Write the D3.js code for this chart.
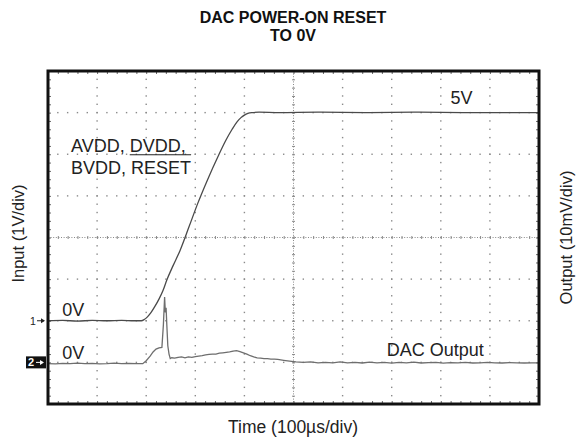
<!DOCTYPE html>
<html>
<head>
<meta charset="utf-8">
<script src="https://cdn.jsdelivr.net/npm/d3@7"></script>
<style>
  html, body { margin: 0; padding: 0; background: #fff; }
  svg { display: block; font-family: "Liberation Sans", Arial, Helvetica, sans-serif; }
</style>
</head>
<body>
<svg id="chart" width="576" height="443"></svg>
<script>
// Channel 1: supply ramp (AVDD, DVDD, BVDD, RESET), volts vs time in µs
const inputTime  = [0, 30, 60, 90, 120, 150, 175, 190, 196, 203, 210, 218, 226, 234, 242, 255, 269, 287, 305, 325, 346, 362, 375, 385, 393, 400, 407, 415, 430, 470, 550, 650, 750, 850, 1000];
const inputVolts = [0, 0.01, -0.01, 0.01, 0, 0.01, 0, 0, 0.03, 0.1, 0.2, 0.35, 0.52, 0.72, 0.98, 1.33, 1.69, 2.25, 2.82, 3.39, 3.94, 4.33, 4.6, 4.78, 4.88, 4.94, 4.98, 5.0, 5.01, 5.0, 5.01, 5.0, 5.01, 5.0, 5.0];

// Channel 2: DAC output, millivolts vs time in µs
const dacTime = [0, 15, 30, 45, 60, 75, 90, 105, 120, 135, 150, 165, 180, 193, 200, 208, 214, 220, 226, 232, 235, 237.5, 239, 240.5, 242, 244, 246.5, 249, 252, 258, 265, 272, 279, 286, 293, 300, 307, 314, 321, 328, 335, 342, 349, 356, 363, 370, 377, 384, 391, 398, 405, 412, 419, 426, 433, 440, 447, 454, 461, 468, 480, 492, 505, 520, 535, 550, 565, 580, 595, 610, 625, 640, 655, 670, 685, 700, 715, 730, 745, 760, 775, 790, 805, 820, 835, 850, 865, 880, 895, 910, 925, 940, 955, 970, 985, 1000];
const dacMilliVolts = [-0.3, -0.35, -0.25, -0.3, -0.2, -0.3, -0.25, -0.35, -0.3, -0.2, -0.3, -0.25, -0.3, -0.3, 0.4, 1.5, 2.5, 3.2, 3.5, 3.6, 9.0, 15.7, 12.0, 13.1, 9.0, 4.0, 2.0, 0.9, 1.1, 1.0, 1.2, 1.3, 1.1, 1.3, 1.2, 1.4, 1.5, 1.6, 1.8, 1.9, 2.0, 2.0, 2.2, 2.3, 2.4, 2.5, 2.7, 2.8, 2.6, 2.3, 2.0, 1.6, 1.3, 1.1, 1.0, 0.9, 0.9, 0.8, 0.8, 0.7, 0.5, 0.3, 0.1, 0.0, 0.1, -0.1, 0.0, -0.1, 0.1, -0.1, 0.0, -0.15, 0.05, -0.1, 0.0, -0.2, 0.0, -0.1, 0.05, -0.15, -0.05, 0.0, -0.2, -0.05, -0.1, 0.0, -0.15, -0.1, 0.0, -0.1, -0.15, -0.05, -0.1, -0.15, -0.1, -0.1];

// Scope screen: 10 horizontal x 8 vertical divisions
const timeDivisions = 10;
const verticalDivisions = 8;
const minorPerDivision = 5;

const svg = d3.select("#chart");
const plotLeft = 48, plotRight = 539, plotTop = 71, plotBottom = 404;

const x = d3.scaleLinear().domain([0, 1000]).range([plotLeft, plotRight]);
// channel 1 ground sits 2 divisions above the bottom edge, 1 V/div
const yIn = d3.scaleLinear().domain([-2, 6]).range([plotBottom, plotTop]);
// channel 2 ground sits 1 division above the bottom edge, 10 mV/div
const yOut = d3.scaleLinear().domain([-10, 70]).range([plotBottom, plotTop]);
// screen divisions
const xDiv = d3.scaleLinear().domain([0, timeDivisions]).range([plotLeft, plotRight]);
const yDiv = d3.scaleLinear().domain([0, verticalDivisions]).range([plotTop, plotBottom]);

const gridColor = "#8a8a8a";
const grid = svg.append("g");

const minorX = d3.range(0, timeDivisions * minorPerDivision + 1).map(i => i / minorPerDivision);
const minorY = d3.range(0, verticalDivisions * minorPerDivision + 1).map(i => i / minorPerDivision);

// dotted graticule: one dot at every minor step on each major line
d3.range(1, verticalDivisions).forEach(r => {
  if (r === verticalDivisions / 2) return;
  grid.append("g").selectAll("rect").data(minorX.slice(1, -1)).join("rect")
    .attr("x", d => xDiv(d) - 0.7).attr("y", yDiv(r) - 0.7)
    .attr("width", 1.4).attr("height", 1.4).attr("fill", gridColor);
});
d3.range(1, timeDivisions).forEach(c => {
  if (c === timeDivisions / 2) return;
  grid.append("g").selectAll("rect").data(minorY.slice(1, -1)).join("rect")
    .attr("x", xDiv(c) - 0.7).attr("y", d => yDiv(d) - 0.7)
    .attr("width", 1.4).attr("height", 1.4).attr("fill", gridColor);
});

// centre crosshair: fine dotted line with minor ticks
const cx = xDiv(timeDivisions / 2), cy = yDiv(verticalDivisions / 2);
grid.append("line").attr("x1", plotLeft).attr("x2", plotRight).attr("y1", cy).attr("y2", cy)
  .attr("stroke", gridColor).attr("stroke-width", 1).attr("stroke-dasharray", "1,1.6");
grid.append("line").attr("x1", cx).attr("x2", cx).attr("y1", plotTop).attr("y2", plotBottom)
  .attr("stroke", gridColor).attr("stroke-width", 1).attr("stroke-dasharray", "1,1.6");
grid.append("g").call(d3.axisBottom(xDiv).tickValues(minorX).tickSize(3).tickFormat(""))
  .attr("transform", `translate(0,${cy - 1.5})`)
  .call(g => g.select(".domain").remove())
  .call(g => g.selectAll("line").attr("stroke", gridColor));
grid.append("g").call(d3.axisRight(yDiv).tickValues(minorY).tickSize(3).tickFormat(""))
  .attr("transform", `translate(${cx - 1.5},0)`)
  .call(g => g.select(".domain").remove())
  .call(g => g.selectAll("line").attr("stroke", gridColor));

// minor ticks along the inside of the frame
const edgeTick = (axis, tx, ty) => grid.append("g").call(axis)
  .attr("transform", `translate(${tx},${ty})`)
  .call(g => g.select(".domain").remove())
  .call(g => g.selectAll("line").attr("stroke", "#6a6a6a"));
edgeTick(d3.axisBottom(xDiv).tickValues(minorX).tickSize(3).tickFormat(""), 0, plotTop);
edgeTick(d3.axisTop(xDiv).tickValues(minorX).tickSize(3).tickFormat(""), 0, plotBottom);
edgeTick(d3.axisRight(yDiv).tickValues(minorY).tickSize(3).tickFormat(""), plotLeft, 0);
edgeTick(d3.axisLeft(yDiv).tickValues(minorY).tickSize(3).tickFormat(""), plotRight, 0);

// traces
const inputLine = d3.line().x((d, i) => x(inputTime[i])).y(d => yIn(d)).curve(d3.curveMonotoneX);
svg.append("path").datum(inputVolts).attr("d", inputLine)
  .attr("fill", "none").attr("stroke", "#4a4a4a").attr("stroke-width", 1.3);

const dacLine = d3.line().x((d, i) => x(dacTime[i])).y(d => yOut(d)).curve(d3.curveLinear);
svg.append("path").datum(dacMilliVolts).attr("d", dacLine)
  .attr("fill", "none").attr("stroke", "#6e6e6e").attr("stroke-width", 1.3);

// frame
svg.append("rect").attr("x", plotLeft).attr("y", plotTop)
  .attr("width", plotRight - plotLeft).attr("height", plotBottom - plotTop)
  .attr("fill", "none").attr("stroke", "#111").attr("stroke-width", 3);

// title
const title = svg.append("text").attr("text-anchor", "middle").attr("font-weight", "bold")
  .attr("font-size", 16).attr("fill", "#111");
title.append("tspan").attr("x", 293).attr("y", 23).text("DAC POWER-ON RESET");
title.append("tspan").attr("x", 293).attr("y", 41).text("TO 0V");

// axis titles
svg.append("text").attr("x", 293).attr("y", 433).attr("text-anchor", "middle")
  .attr("font-size", 17.5).attr("fill", "#222").text("Time (100µs/div)");
svg.append("text").attr("transform", `translate(24,${(plotTop + plotBottom) / 2 - 4}) rotate(-90)`)
  .attr("text-anchor", "middle").attr("font-size", 16.5).attr("fill", "#222").text("Input (1V/div)");
svg.append("text").attr("transform", `translate(572,${(plotTop + plotBottom) / 2}) rotate(-90)`)
  .attr("text-anchor", "middle").attr("font-size", 16.5).attr("fill", "#222").text("Output (10mV/div)");

// trace annotations
const label = (tx, ty, s) => svg.append("text").attr("x", tx).attr("y", ty)
  .attr("font-size", 18).attr("fill", "#222").text(s);
label(x(29), yIn(0) - 5, "0V");
label(x(29), yOut(0) - 3, "0V");
label(x(820), yIn(5) - 9, "5V");
label(x(690), yOut(0) - 6, "DAC Output");
const supply1 = label(x(47), yIn(4) - 2, "AVDD, DVDD,");
const supply2 = label(x(47), yIn(3.5) - 1, "BVDD, RESET");
// bar over RESET (active-low), drawn between the two lines
{
  const t1 = supply1.node();
  const dvddStart = t1.getStartPositionOfChar(6).x;
  const t2 = supply2.node();
  const resetEnd = t2.getEndPositionOfChar(t2.getNumberOfChars() - 1).x;
  svg.append("line").attr("x1", dvddStart).attr("x2", resetEnd)
    .attr("y1", yIn(4) + 0.5).attr("y2", yIn(4) + 0.5)
    .attr("stroke", "#222").attr("stroke-width", 1.2);
}

// channel ground markers
const m1 = svg.append("g").attr("transform", `translate(0,${yIn(0)})`);
m1.append("text").attr("x", 30).attr("y", 4).attr("font-size", 10.5).attr("fill", "#222").text("1");
m1.append("line").attr("x1", 37).attr("x2", 44).attr("y1", 0).attr("y2", 0).attr("stroke", "#222").attr("stroke-width", 1);
m1.append("path").attr("d", "M41,-2.5L45,0L41,2.5Z").attr("fill", "#222");

const m2 = svg.append("g").attr("transform", `translate(0,${yOut(0)})`);
m2.append("rect").attr("x", 26).attr("y", -6).attr("width", 20).attr("height", 12).attr("fill", "#111");
m2.append("text").attr("x", 28).attr("y", 4).attr("font-size", 11).attr("font-weight", "bold").attr("fill", "#fff").text("2");
m2.append("line").attr("x1", 36).attr("x2", 43).attr("y1", 0).attr("y2", 0).attr("stroke", "#fff").attr("stroke-width", 1);
m2.append("path").attr("d", "M40,-2.5L44,0L40,2.5Z").attr("fill", "#fff");
</script>
</body>
</html>
